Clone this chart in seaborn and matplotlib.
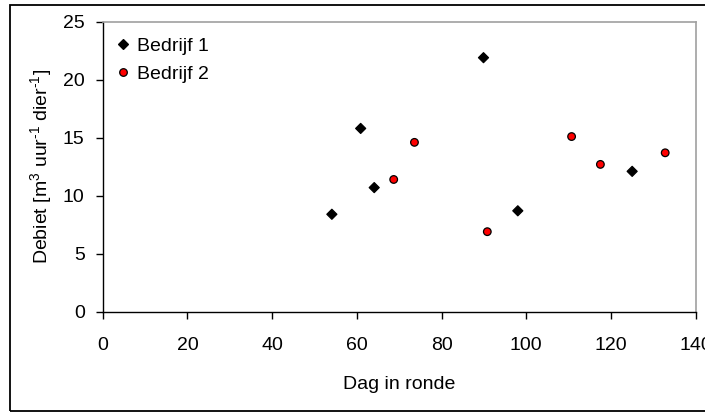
import pandas as pd
import seaborn as sns
import matplotlib.pyplot as plt
from matplotlib.patches import Rectangle

# data
dag_b1 = [54.1, 60.9, 64.1, 89.9, 98.0, 125.0]
debiet_b1 = [8.4, 15.8, 10.7, 21.9, 8.7, 12.1]
dag_b2 = [68.7, 73.6, 90.8, 110.7, 117.5, 132.8]
debiet_b2 = [11.4, 14.6, 6.9, 15.1, 12.7, 13.7]
labels = ["Bedrijf 1", "Bedrijf 2"]

df = pd.DataFrame({
    "dag": dag_b1 + dag_b2,
    "debiet": debiet_b1 + debiet_b2,
    "bedrijf": [labels[0]] * len(dag_b1) + [labels[1]] * len(dag_b2),
})

sns.set_style("white")
plt.rcParams['font.family'] = ['Liberation Sans', 'DejaVu Sans']
plt.rcParams['mathtext.fontset'] = 'custom'
plt.rcParams['mathtext.rm'] = 'Liberation Sans'
plt.rcParams['font.size'] = 14
plt.rcParams['text.color'] = 'black'
plt.rcParams['axes.labelcolor'] = 'black'
plt.rcParams['xtick.color'] = 'black'
plt.rcParams['ytick.color'] = 'black'

fig = plt.figure(figsize=(7.05, 4.12), dpi=100)
ax = fig.add_axes([0.1457, 0.2434, 0.8411, 0.7039])

sns.scatterplot(data=df, x="dag", y="debiet", hue="bedrijf", style="bedrijf",
                size="bedrijf", sizes={labels[0]: 26, labels[1]: 30},
                markers={labels[0]: "D", labels[1]: "o"},
                palette={labels[0]: "black", labels[1]: "red"},
                edgecolor="black", linewidth=0.9, ax=ax)

ax.set_xlim(0, 140)
ax.set_ylim(0, 25)
ax.set_xticks(range(0, 141, 20))
ax.set_yticks(range(0, 26, 5))
ax.set_xlabel("Dag in ronde", labelpad=16)
ax.set_ylabel(r"Debiet [m$^{3}$ uur$^{\text{-1}}$ dier$^{\text{-1}}$]", labelpad=6)

for side in ["top", "right"]:
    ax.spines[side].set_color("#a0a0a0")
    ax.spines[side].set_linewidth(1.2)
for side in ["left", "bottom"]:
    ax.spines[side].set_color("black")
    ax.spines[side].set_linewidth(1.0)
ax.tick_params(direction="out", length=5, width=1, color="black",
               bottom=True, left=True, labelsize=14)
ax.tick_params(axis="x", pad=13)
ax.tick_params(axis="y", pad=8)

leg = ax.legend(frameon=False, loc="upper left", bbox_to_anchor=(-0.015, 1.0),
                handletextpad=0.0, labelspacing=0.55, borderaxespad=0.4,
                handlelength=1.4, fontsize=14)

# outer border of the chart
fig.patches.append(Rectangle((0.0142, 0.003), 1.05, 0.986, transform=fig.transFigure,
                             fill=False, edgecolor="black", linewidth=1.3))

fig.savefig("out.png", dpi=100)
